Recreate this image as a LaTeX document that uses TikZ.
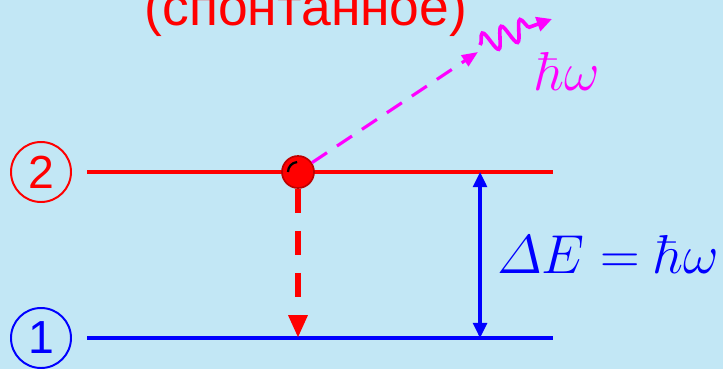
\documentclass[tikz,border=0pt]{standalone}
\usepackage{fix-cm}
\usepackage{amsmath}
\usepackage[no-math]{fontspec}
\setmainfont{Liberation Sans}
\usetikzlibrary{arrows.meta,decorations.pathmorphing}
\definecolor{sky}{HTML}{C2E7F5}
\definecolor{upper}{HTML}{FF0000}
\definecolor{lower}{HTML}{0000FF}
\definecolor{photon}{HTML}{FF00FF}

\tikzset{
  levelnum/.style={circle,draw,line width=1.4pt,minimum size=1.5cm,
    inner sep=0pt,font=\fontsize{33}{38}\selectfont},
  levelline/.style={line width=2.8pt},
  bigmath/.style={font=\fontsize{39}{44}\selectfont},
}

\begin{document}
\begin{tikzpicture}[>=Latex]
  \fill[sky] (0,0) rectangle (18.075,9.225);
  \useasboundingbox (0,0) rectangle (18.075,9.225);

  \node[anchor=base,text=upper,font=\fontsize{38}{44}\selectfont] (title)
    at (7.65,8.6) {(спонтанное)};

  % Two levels
  \node[levelnum,draw=upper,text=upper] (two) at (1.025,4.925) {2};
  \node[levelnum,draw=lower,text=lower] (one) at (1.025,0.775) {1};
  \coordinate (twoL) at (2.175,4.925);
  \coordinate (twoR) at (13.825,4.925);
  \coordinate (oneL) at (2.175,0.775);
  \coordinate (oneR) at (13.825,0.775);
  \draw[levelline,draw=upper] (twoL) -- (twoR);
  \draw[levelline,draw=lower] (oneL) -- (oneR);

  % Electron drops down
  \node[circle,fill=upper,draw=upper!75!black,line width=1.2pt,
        minimum size=0.8cm,inner sep=0pt] (ball) at (7.45,4.925) {};
  \draw[black,line width=1.6pt] ([shift={(180:0.25)}]ball.center)
    arc (180:95:0.25);
  \coordinate (drop) at (7.45,0.775);
  \draw[upper,line width=4.3pt,dash pattern=on 0.6cm off 0.45cm,
        -{Triangle[length=0.57cm,width=0.45cm]}]
    (ball) -- (drop);

  % Emitted photon
  \coordinate (wavein) at (11.95,7.925);
  \coordinate (wavestart) at (12.0,8.1);
  \coordinate (waveout) at (13.8,8.75);
  \draw[photon,line width=2.2pt,dash pattern=on 0.45cm off 0.3cm,
        -{Triangle[length=0.4cm,width=0.32cm]}]
    (ball) -- (wavein);
  \draw[photon,line width=2.6pt,decorate,
        decoration={snake,amplitude=0.26cm,segment length=0.5cm,post length=0.4cm},
        -{Triangle[length=0.38cm,width=0.36cm]}]
    (wavestart) -- (waveout);
  \node[bigmath,text=photon] (quant) at (14.2,7.45) {$\hbar\omega$};

  % Energy gap
  \coordinate (gaptop) at (12,4.925);
  \coordinate (gapbot) at (12,0.775);
  \draw[lower,line width=2.2pt,
        {Triangle[length=0.38cm,width=0.35cm]}-{Triangle[length=0.38cm,width=0.35cm]}]
    (gaptop) -- (gapbot);
  \node[bigmath,anchor=base west,inner sep=0pt,text=lower] (gap)
    at (12.425,2.4) {$\varDelta E=\hbar\omega$};
\end{tikzpicture}
\end{document}
